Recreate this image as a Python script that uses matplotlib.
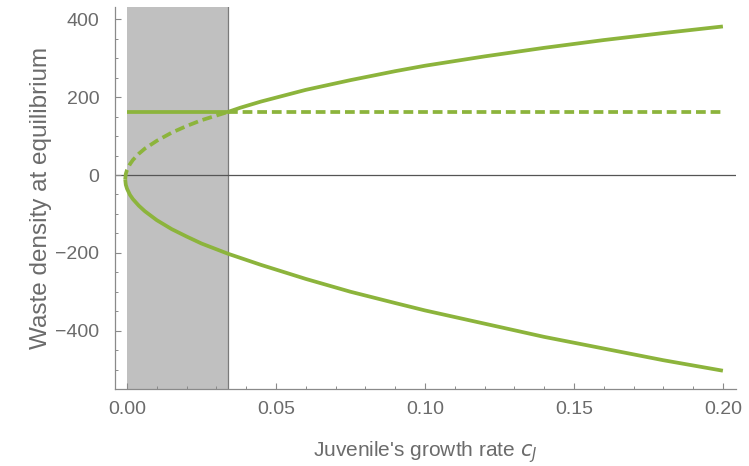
import matplotlib
matplotlib.use("Agg")
import matplotlib.pyplot as plt
from matplotlib.ticker import MultipleLocator

# ---- data ----
shade_x = [0.0, 0.0338]            # shaded region in c_J
eq_const = 162                      # constant equilibrium
c_switch = 0.0338                   # where branches exchange stability

# upper branch, unstable part (dashed) from the turning point
x_up_dash = [-0.0006, -0.0004, 0.0, 0.001, 0.002, 0.004, 0.006, 0.01, 0.015, 0.02, 0.025, 0.0338]
y_up_dash = [-11, 3, 13, 28, 39, 55, 68, 88, 109, 126, 141, 162]

# upper branch, stable part (solid)
x_up = [0.0338, 0.038, 0.045, 0.052, 0.06, 0.075, 0.09, 0.10, 0.12, 0.14, 0.16, 0.18, 0.20]
y_up = [162, 173, 189, 203, 219, 244, 267, 281, 305, 327, 347, 365, 382]

# lower branch (solid) from the turning point
x_lo = [-0.0006, -0.0004, 0.0, 0.001, 0.002, 0.004, 0.006, 0.01, 0.015, 0.02, 0.025, 0.0338,
        0.045, 0.06, 0.075, 0.09, 0.10, 0.12, 0.14, 0.16, 0.18, 0.20]
y_lo = [-11, -25, -35, -51, -62, -79, -93, -116, -139, -158, -176, -202,
        -231, -267, -300, -329, -348, -382, -416, -446, -476, -503]

x_end = 0.20
xticks = [0.00, 0.05, 0.10, 0.15, 0.20]
yticks = [-400, -200, 0, 200, 400]

green = "#8cb43c"
txt = "#6b6b6b"
axc = "#8a8a8a"

plt.rcParams["font.family"] = ["Liberation Sans", "DejaVu Sans"]
fig = plt.figure(figsize=(7.49, 4.66), dpi=100)
ax = fig.add_axes([114.6 / 749, 1 - 389 / 466, (736 - 114.6) / 749, (389 - 7) / 466])

ax.set_xlim(-0.00416, 0.2044)
ax.set_ylim(-550, 432)

ax.axvspan(shade_x[0], shade_x[1], color="#c0c0c0", lw=0, zorder=0)
ax.axvline(shade_x[1], color="#7a7a7a", lw=0.9, zorder=1)
ax.axhline(0, color="#555555", lw=0.9, zorder=1)

lw = 2.7
ax.plot([shade_x[0], c_switch], [eq_const, eq_const], color=green, lw=lw,
        solid_capstyle="butt", zorder=3)
ax.plot([c_switch, x_end], [eq_const, eq_const], color=green, lw=lw,
        dashes=(2.6, 1.3), dash_capstyle="butt", zorder=3)
ax.plot(x_up_dash, y_up_dash, color=green, lw=lw, dashes=(2.6, 1.3),
        dash_capstyle="butt", zorder=3)
ax.plot(x_up, y_up, color=green, lw=lw, solid_capstyle="butt",
        solid_joinstyle="round", zorder=3)
ax.plot(x_lo, y_lo, color=green, lw=lw, solid_capstyle="butt",
        solid_joinstyle="round", zorder=3)

for s in ["top", "right"]:
    ax.spines[s].set_visible(False)
for s in ["left", "bottom"]:
    ax.spines[s].set_color(axc)
    ax.spines[s].set_linewidth(0.9)

ax.set_xticks(xticks)
ax.set_xticklabels([f"{v:.2f}" for v in xticks])
ax.set_yticks(yticks)
ax.set_yticklabels([str(v).replace("-", "\u2212") for v in yticks])
ax.xaxis.set_minor_locator(MultipleLocator(0.01))
ax.yaxis.set_minor_locator(MultipleLocator(50))
ax.tick_params(which="both", direction="in", color=axc, labelcolor=txt, labelsize=14)
ax.tick_params(axis="x", which="major", length=4.5, width=0.8, pad=9)
ax.tick_params(axis="y", which="major", length=4.5, width=0.8, pad=11)
ax.tick_params(which="minor", length=2.5, width=0.7)

ax.set_xlabel("Juvenile's growth rate $c_J$", color=txt, fontsize=15, labelpad=15)
ax.set_ylabel("Waste density at equilibrium", color=txt, fontsize=17.5, labelpad=2)

fig.savefig("out.png", dpi=100)
